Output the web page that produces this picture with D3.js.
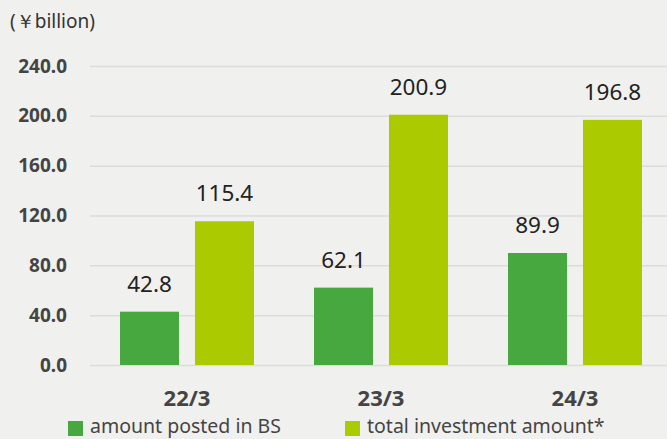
<!DOCTYPE html>
<html>
<head>
<meta charset="utf-8">
<script src="https://cdn.jsdelivr.net/npm/d3@7/dist/d3.min.js"></script>
<style>
  html, body { margin: 0; padding: 0; background: #f0f0ef; }
  svg { display: block; font-family: "Source Sans Pro", "Noto Sans", sans-serif; }
</style>
</head>
<body>
<svg id="chart" width="667" height="439"></svg>
<script>
// Fiscal years and the two series plotted per year
const categories = ["22/3", "23/3", "24/3"];
const seriesNames = ["amount posted in BS", "total investment amount*"];
const postedInBS = [42.8, 62.1, 89.9];
const totalInvestment = [115.4, 200.9, 196.8];
const yTicks = [0, 40, 80, 120, 160, 200, 240];
const unitLabel = "(￥billion)";

const colors = ["#46a83f", "#abcb00"];
const seriesValues = [postedInBS, totalInvestment];

const svg = d3.select("#chart");
const W = 667, H = 439;

const x0 = d3.scaleBand().domain(categories).range([90, 672]).padding(0);
const x1 = d3.scaleBand().domain(seriesNames).range([30, 164]).paddingInner(0.213).paddingOuter(0);
const y = d3.scaleLinear().domain([0, 240]).range([365, 66]);

// Unit label
svg.append("text")
  .attr("x", 10).attr("y", 28)
  .attr("font-size", 19).attr("fill", "#333")
  .text(unitLabel);

// Gridlines and y labels
const yAxis = d3.axisLeft(y).tickValues(yTicks).tickSize(-(W - 90)).tickFormat(d3.format(".1f"));
const gy = svg.append("g").attr("transform", "translate(90,0)").call(yAxis);
gy.select(".domain").remove();
gy.selectAll(".tick line").attr("stroke", "#dcdcdc").attr("stroke-width", 1.5);
gy.selectAll(".tick text")
  .attr("x", -23)
  .attr("font-size", 19).attr("font-weight", "bold").attr("fill", "#444")
  .attr("font-family", "'Source Sans Pro', 'Noto Sans', sans-serif");

// Bars
const groups = svg.append("g").selectAll("g")
  .data(categories)
  .join("g")
  .attr("transform", d => `translate(${x0(d)},0)`);

groups.selectAll("rect")
  .data((c, i) => seriesNames.map((s, j) => ({ s, j, v: seriesValues[j][i] })))
  .join("rect")
  .attr("x", d => x1(d.s))
  .attr("width", x1.bandwidth())
  .attr("y", d => y(d.v))
  .attr("height", d => y(0) - y(d.v))
  .attr("fill", d => colors[d.j]);

groups.selectAll("text.val")
  .data((c, i) => seriesNames.map((s, j) => ({ s, j, v: seriesValues[j][i] })))
  .join("text")
  .attr("class", "val")
  .attr("x", d => x1(d.s) + x1.bandwidth() / 2)
  .attr("y", d => y(d.v) - 20)
  .attr("text-anchor", "middle")
  .attr("font-size", 22.5).attr("fill", "#222")
  .text(d => d3.format(".1f")(d.v));

// Category labels
svg.append("g").selectAll("text")
  .data(categories)
  .join("text")
  .attr("x", d => x0(d) + x0.bandwidth() / 2)
  .attr("y", 406)
  .attr("text-anchor", "middle")
  .attr("font-size", 22).attr("font-weight", "bold").attr("fill", "#444")
  .text(d => d);

// Legend
const legendX = [68, 345];
const legend = svg.append("g").selectAll("g")
  .data(seriesNames)
  .join("g")
  .attr("transform", (d, i) => `translate(${legendX[i]},0)`);
legend.append("rect")
  .attr("x", 0).attr("y", 421).attr("width", 15).attr("height", 15)
  .attr("fill", (d, i) => colors[i]);
legend.append("text")
  .attr("x", 22).attr("y", 433)
  .attr("font-size", 19.5).attr("fill", "#444")
  .text(d => d);
</script>
</body>
</html>
